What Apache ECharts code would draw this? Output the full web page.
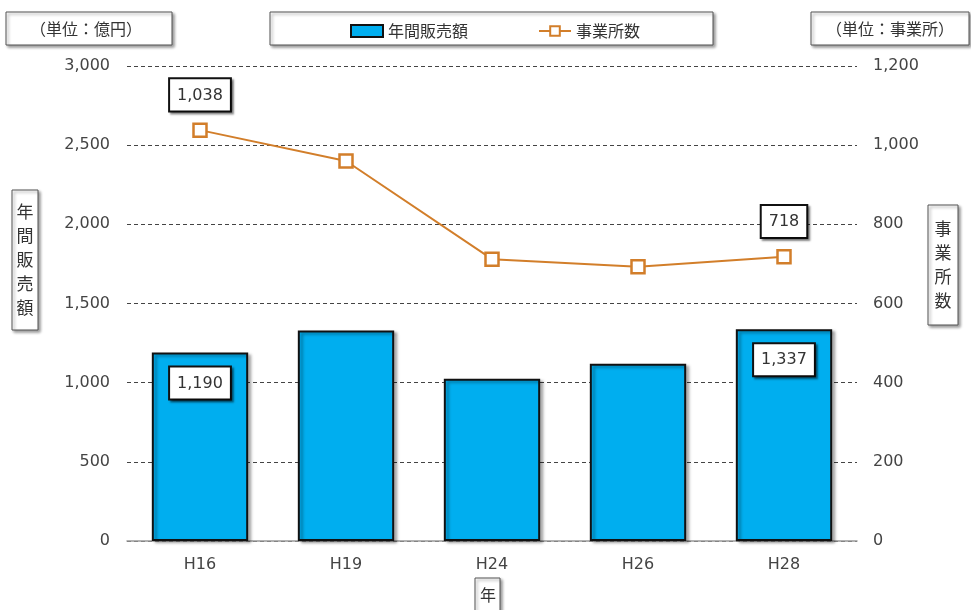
<!DOCTYPE html>
<html>
<head>
<meta charset="utf-8">
<script src="https://cdn.jsdelivr.net/npm/echarts@6/dist/echarts.min.js"></script>
<style>
  html, body { margin: 0; padding: 0; background: #fff; }
  #chart { width: 971px; height: 610px; }
</style>
</head>
<body>
<div id="chart"></div>
<script>
var years = ['H16', 'H19', 'H24', 'H26', 'H28'];
var sales = [1190, 1330, 1025, 1120, 1337];      // 年間販売額 (億円)
var offices = [1038, 960, 712, 693, 718];        // 事業所数
var leftTicks = [0, 3000, 500];
var rightTicks = [0, 1200, 200];

var font = '"DejaVu Sans", "Noto Sans CJK JP", sans-serif';
var cjk = '"Noto Sans CJK JP", sans-serif';
var boxLabel = {
    show: true,
    color: '#333',
    fontSize: 16,
    fontFamily: font,
    backgroundColor: '#fff',
    borderColor: '#111',
    borderWidth: 2,
    padding: [8, 7, 7, 7],
    shadowColor: 'rgba(0,0,0,0.45)',
    shadowOffsetX: 2,
    shadowOffsetY: 2,
    shadowBlur: 2,
    formatter: function (p) { return p.value.toLocaleString('en-US'); }
};

function fmt(v) { return v.toLocaleString('en-US'); }

// only first and last get a value box
var barData = sales.map(function (v, i) {
    var d = { value: v };
    if (i === 0 || i === sales.length - 1) {
        d.label = Object.assign({}, boxLabel, { position: 'insideTop', distance: 15 });
    }
    return d;
});
var lineData = offices.map(function (v, i) {
    var d = { value: v };
    if (i === 0 || i === offices.length - 1) {
        d.label = Object.assign({}, boxLabel, { position: 'top', distance: 12 });
    }
    return d;
});

function box(x, y, w, h) {
    return {
        type: 'rect',
        shape: { x: x, y: y, width: w, height: h },
        style: {
            fill: '#fff', stroke: '#555', lineWidth: 1,
            shadowColor: 'rgba(0,0,0,0.4)', shadowOffsetX: 2, shadowOffsetY: 2, shadowBlur: 3
        },
        z: 0
    };
}
function txt(x, y, s, size, lh) {
    return {
        type: 'text', x: x, y: y, z: 1,
        style: { text: s, font: (size || 16) + 'px ' + cjk, fill: '#333', align: 'center', verticalAlign: 'middle', lineHeight: lh || 24 }
    };
}

var mychart = echarts.init(document.getElementById('chart'));
var option = {
    animation: false,
    grid: { left: 127, right: 114, top: 66, bottom: 69 },
    legend: {
        top: 18,
        left: 345,
        itemGap: 70,
        itemWidth: 32,
        itemHeight: 12,
        textStyle: { fontSize: 16, color: '#333', fontFamily: cjk },
        data: [
            { name: '年間販売額', icon: 'rect', itemStyle: { color: '#00AEEF', borderColor: '#111', borderWidth: 2 } },
            { name: '事業所数' }
        ]
    },
    graphic: [
        box(6, 12, 166, 33), txt(86, 29, '（単位：億円）'),
        box(270, 12, 443, 33),
        box(811, 12, 158, 33), txt(890, 29, '（単位：事業所）'),
        box(12, 190, 26, 140), txt(25, 260, '年\n間\n販\n売\n額', 17, 24),
        box(928, 205, 30, 120), txt(943, 265, '事\n業\n所\n数', 17, 24),
        box(475, 578, 25, 34), txt(488, 595, '年')
    ],
    xAxis: {
        type: 'category',
        data: years,
        axisLine: { lineStyle: { color: '#999', width: 1.5 } },
        axisTick: { inside: true, length: 6, lineStyle: { color: '#999' } },
        axisLabel: { color: '#444', fontSize: 16, margin: 16, fontFamily: font }
    },
    yAxis: [
        {
            type: 'value',
            min: leftTicks[0], max: leftTicks[1], interval: leftTicks[2],
            axisLine: { show: false },
            axisTick: { show: false },
            axisLabel: { color: '#444', fontSize: 16, margin: 17, fontFamily: font, formatter: fmt },
            splitLine: { lineStyle: { color: '#444', type: [4, 3], width: 1 } }
        },
        {
            type: 'value',
            min: rightTicks[0], max: rightTicks[1], interval: rightTicks[2],
            axisLine: { show: false },
            axisTick: { show: false },
            axisLabel: { color: '#444', fontSize: 16, margin: 16, fontFamily: font, formatter: fmt },
            splitLine: { show: false }
        }
    ],
    series: [
        {
            name: '年間販売額',
            type: 'bar',
            yAxisIndex: 0,
            barWidth: '66%',
            itemStyle: {
                color: '#00AEEF', borderColor: '#111', borderWidth: 2,
                shadowColor: 'rgba(0,0,0,0.35)', shadowOffsetX: 3, shadowOffsetY: 2, shadowBlur: 3
            },
            data: barData
        },
        {
            name: '事業所数',
            type: 'line',
            yAxisIndex: 1,
            symbol: 'rect',
            symbolSize: 13,
            lineStyle: { color: '#D27E2A', width: 2 },
            itemStyle: { color: '#fff', borderColor: '#D27E2A', borderWidth: 2.5 },
            data: lineData,
            z: 5
        }
    ]
};
mychart.setOption(option);
</script>
</body>
</html>
